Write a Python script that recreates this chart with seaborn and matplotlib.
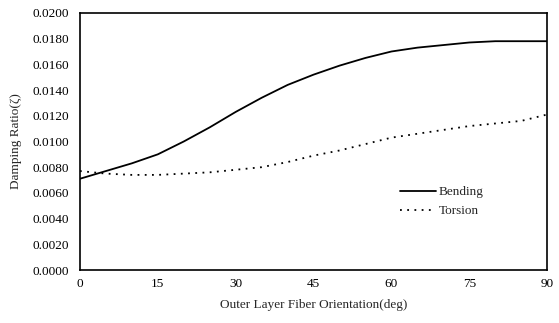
import matplotlib
matplotlib.use("Agg")
import matplotlib.pyplot as plt
import seaborn as sns
import pandas as pd

angles = [0, 5, 10, 15, 20, 25, 30, 35, 40, 45, 50, 55, 60, 65, 70, 75, 80, 85, 90]
bending = [0.0071, 0.0077, 0.0083, 0.0090, 0.0100, 0.0111, 0.0123, 0.0134, 0.0144,
           0.0152, 0.0159, 0.0165, 0.0170, 0.0173, 0.0175, 0.0177, 0.0178, 0.0178, 0.0178]
torsion = [0.0077, 0.0075, 0.0074, 0.0074, 0.0075, 0.0076, 0.0078, 0.0080, 0.0084,
           0.0089, 0.0093, 0.0098, 0.0103, 0.0106, 0.0109, 0.0112, 0.0114, 0.0116, 0.0121]
xticks = [0, 15, 30, 45, 60, 75, 90]
yticks = [0.0, 0.002, 0.004, 0.006, 0.008, 0.010, 0.012, 0.014, 0.016, 0.018, 0.020]

df = pd.DataFrame({
    "angle": angles * 2,
    "value": bending + torsion,
    "series": ["Bending"] * len(angles) + ["Torsion"] * len(angles),
})

sns.set_style("white")
plt.rcParams["font.family"] = ["Liberation Serif", "DejaVu Serif"]

fig = plt.figure(figsize=(5.59, 3.23), dpi=100)
ax = fig.add_axes([0.143, 0.164, 0.836, 0.796])

sns.lineplot(data=df[df.series == "Bending"], x="angle", y="value", ax=ax,
             color="black", linewidth=1.3, label="Bending")
sns.lineplot(data=df[df.series == "Torsion"], x="angle", y="value", ax=ax,
             color="black", linewidth=1.3, linestyle=(0, (1, 3)), label="Torsion")

ax.set_xlim(0, 90)
ax.set_ylim(0, 0.02)
ax.set_xticks(xticks)
ax.set_yticks(yticks)
ax.set_yticklabels([f"{v:.4f}" for v in yticks])
ax.tick_params(axis="both", length=0, labelsize=9.5, colors="black")
ax.tick_params(axis="y", pad=8)
ax.tick_params(axis="x", pad=6)
for s in ax.spines.values():
    s.set_color("black")
    s.set_linewidth(1.2)

ax.set_xlabel("Outer Layer Fiber Orientation(deg)", fontsize=9.5, labelpad=6)
ax.set_ylabel("Damping Ratio(ζ)", fontsize=9.5, labelpad=7)

leg = ax.legend(loc="upper left", bbox_to_anchor=(0.66, 0.372), frameon=False,
                fontsize=9.5, handlelength=2.7, handletextpad=0.2, labelspacing=0.5)

fig.savefig("out.png", dpi=100)
